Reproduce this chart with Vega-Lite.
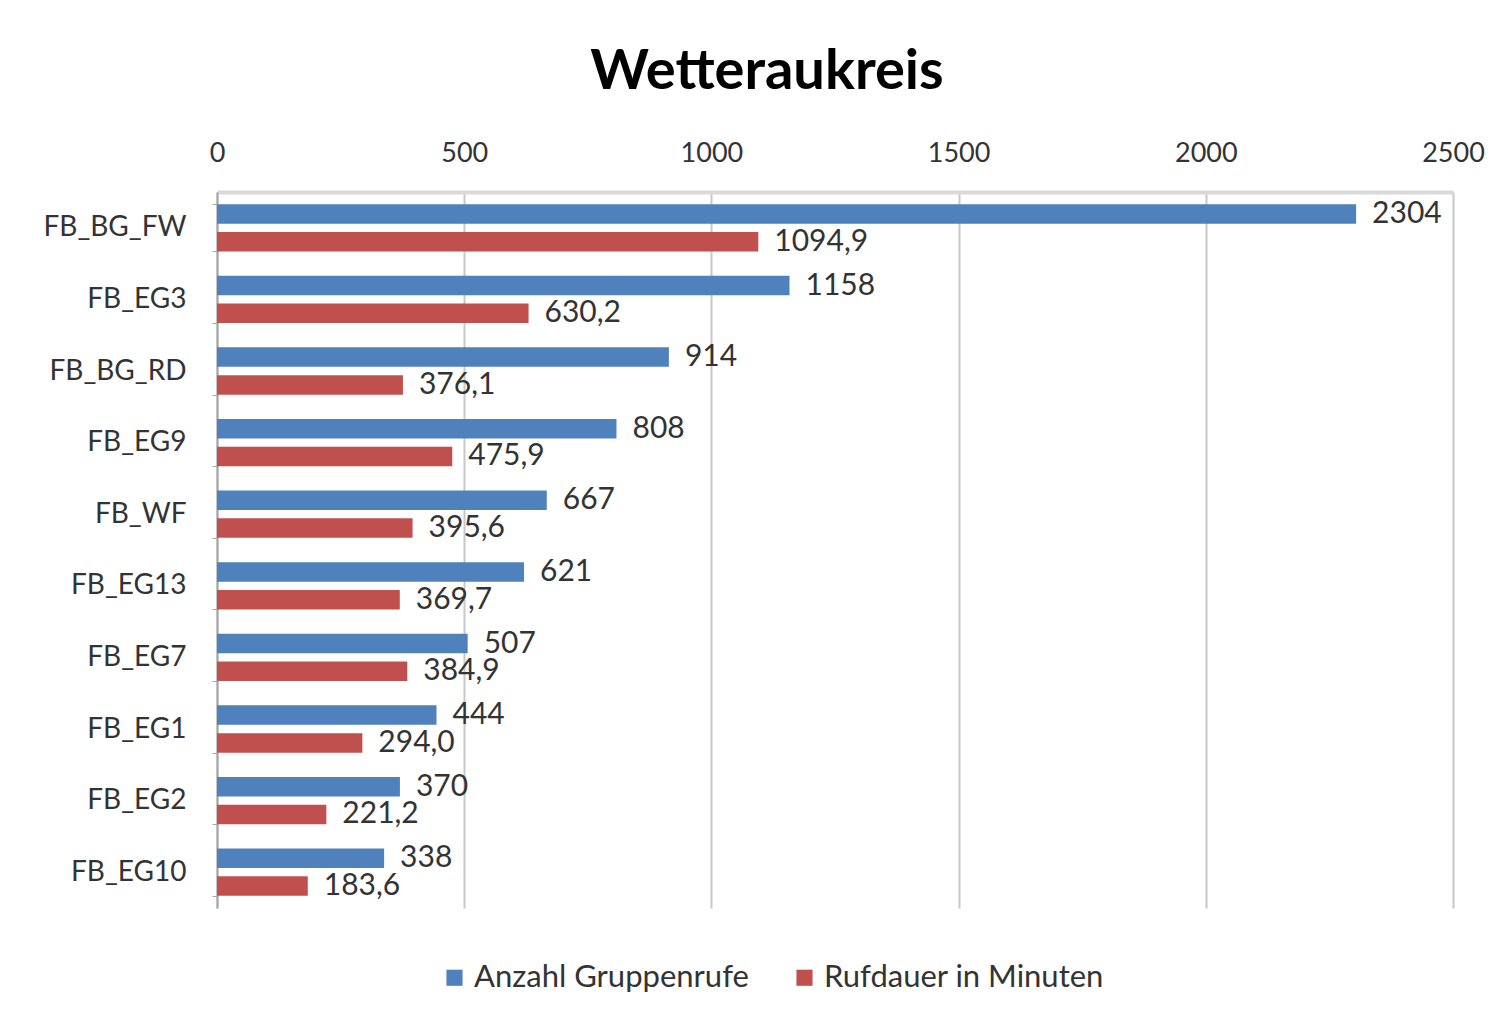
{
  "$schema": "https://vega.github.io/schema/vega-lite/v6.json",
  "autosize": {"type": "none"},
  "padding": {"left": 217, "top": 192, "right": 52, "bottom": 116},
  "width": 1236,
  "height": 716,
  "background": "white",
  "config": {"view": {"stroke": null}},
  "title": {
    "text": "Wetteraukreis",
    "font": "Lato",
    "fontSize": 56,
    "fontWeight": "bold",
    "color": "#000000",
    "anchor": "middle",
    "dx": -68,
    "offset": 38
  },
  "data": {
    "values": [
      {"gruppe": "FB_BG_FW", "serie": "Anzahl Gruppenrufe", "wert": 2304, "label": "2304"},
      {"gruppe": "FB_BG_FW", "serie": "Rufdauer in Minuten", "wert": 1094.9, "label": "1094,9"},
      {"gruppe": "FB_EG3", "serie": "Anzahl Gruppenrufe", "wert": 1158, "label": "1158"},
      {"gruppe": "FB_EG3", "serie": "Rufdauer in Minuten", "wert": 630.2, "label": "630,2"},
      {"gruppe": "FB_BG_RD", "serie": "Anzahl Gruppenrufe", "wert": 914, "label": "914"},
      {"gruppe": "FB_BG_RD", "serie": "Rufdauer in Minuten", "wert": 376.1, "label": "376,1"},
      {"gruppe": "FB_EG9", "serie": "Anzahl Gruppenrufe", "wert": 808, "label": "808"},
      {"gruppe": "FB_EG9", "serie": "Rufdauer in Minuten", "wert": 475.9, "label": "475,9"},
      {"gruppe": "FB_WF", "serie": "Anzahl Gruppenrufe", "wert": 667, "label": "667"},
      {"gruppe": "FB_WF", "serie": "Rufdauer in Minuten", "wert": 395.6, "label": "395,6"},
      {"gruppe": "FB_EG13", "serie": "Anzahl Gruppenrufe", "wert": 621, "label": "621"},
      {"gruppe": "FB_EG13", "serie": "Rufdauer in Minuten", "wert": 369.7, "label": "369,7"},
      {"gruppe": "FB_EG7", "serie": "Anzahl Gruppenrufe", "wert": 507, "label": "507"},
      {"gruppe": "FB_EG7", "serie": "Rufdauer in Minuten", "wert": 384.9, "label": "384,9"},
      {"gruppe": "FB_EG1", "serie": "Anzahl Gruppenrufe", "wert": 444, "label": "444"},
      {"gruppe": "FB_EG1", "serie": "Rufdauer in Minuten", "wert": 294.0, "label": "294,0"},
      {"gruppe": "FB_EG2", "serie": "Anzahl Gruppenrufe", "wert": 370, "label": "370"},
      {"gruppe": "FB_EG2", "serie": "Rufdauer in Minuten", "wert": 221.2, "label": "221,2"},
      {"gruppe": "FB_EG10", "serie": "Anzahl Gruppenrufe", "wert": 338, "label": "338"},
      {"gruppe": "FB_EG10", "serie": "Rufdauer in Minuten", "wert": 183.6, "label": "183,6"}
    ]
  },
  "encoding": {
    "y": {
      "field": "gruppe",
      "type": "nominal",
      "sort": null,
      "scale": {"paddingInner": 0.34, "paddingOuter": 0.17},
      "axis": {
        "title": null,
        "labelFont": "Lato",
        "labelFontSize": 28,
        "labelColor": "#333333",
        "labelPadding": 26,
        "domainColor": "#a6a6a6",
        "domainWidth": 2,
        "tickColor": "#a6a6a6",
        "tickSize": 5,
        "tickBand": "extent",
        "grid": false
      }
    },
    "yOffset": {
      "field": "serie",
      "type": "nominal",
      "sort": ["Anzahl Gruppenrufe", "Rufdauer in Minuten"],
      "scale": {"paddingInner": 0.3}
    },
    "x": {
      "field": "wert",
      "type": "quantitative",
      "scale": {"domain": [0, 2500], "nice": false},
      "axis": {
        "orient": "top",
        "title": null,
        "values": [0, 500, 1000, 1500, 2000, 2500],
        "format": "d",
        "labelFlush": false,
        "labelFont": "Lato",
        "labelFontSize": 27,
        "labelColor": "#333333",
        "labelPadding": 25,
        "ticks": false,
        "domainColor": "#d9d9d9",
        "domainWidth": 4,
        "grid": true,
        "gridColor": "#c8c8c8",
        "gridWidth": 2
      }
    }
  },
  "layer": [
    {
      "mark": {"type": "bar"},
      "encoding": {
        "color": {
          "field": "serie",
          "type": "nominal",
          "sort": ["Anzahl Gruppenrufe", "Rufdauer in Minuten"],
          "scale": {"domain": ["Anzahl Gruppenrufe", "Rufdauer in Minuten"], "range": ["#4F81BD", "#C0504D"]},
          "legend": {
            "title": null,
            "orient": "none",
            "legendX": 222,
            "legendY": 770,
            "direction": "horizontal",
            "symbolType": "square",
            "symbolSize": 260,
            "symbolStrokeWidth": 0,
            "labelFont": "Lato",
            "labelFontSize": 31,
            "labelColor": "#333333",
            "labelOffset": 4,
            "labelLimit": 400,
            "columnPadding": 40
          }
        }
      }
    },
    {
      "mark": {"type": "text", "align": "left", "baseline": "middle", "dx": 16, "font": "Lato", "fontSize": 30, "color": "#333333"},
      "encoding": {
        "text": {"field": "label", "type": "nominal"}
      }
    }
  ]
}
